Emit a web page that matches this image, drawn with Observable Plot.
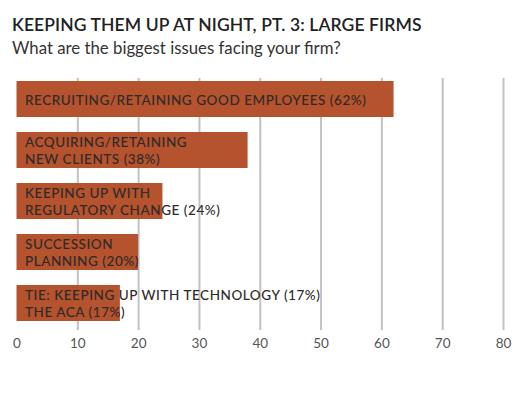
<!DOCTYPE html>
<html>
<head>
<meta charset="utf-8">
<script src="https://cdn.jsdelivr.net/npm/d3@7"></script>
<script src="https://cdn.jsdelivr.net/npm/@observablehq/plot@0.6"></script>
<style>
  body { margin: 0; background: #fff; font-family: Lato, "Open Sans", sans-serif; }
  #head { position: relative; width: 521px; height: 60px; }
  #title { position: absolute; left: 12px; top: 14px; font-size: 17.5px; font-weight: 600; color: #222; letter-spacing: 0.1px; white-space: nowrap; }
  #subtitle { position: absolute; left: 12px; top: 37px; font-size: 16.8px; color: #333; white-space: nowrap; }
  #chart g[aria-label="text"] text { letter-spacing: 0.55px; }
</style>
</head>
<body>
<div id="head">
  <div id="title">KEEPING THEM UP AT NIGHT, PT. 3: LARGE FIRMS</div>
  <div id="subtitle">What are the biggest issues facing your firm?</div>
</div>
<div id="chart"></div>
<script>
const categories = [
  "Recruiting/retaining good employees",
  "Acquiring/retaining new clients",
  "Keeping up with regulatory change",
  "Succession planning",
  "Tie: keeping up with technology / the ACA"
];
const values = [62, 38, 24, 20, 17];
const labels = [
  "RECRUITING/RETAINING GOOD EMPLOYEES (62%)",
  "ACQUIRING/RETAINING\nNEW CLIENTS (38%)",
  "KEEPING UP WITH\nREGULATORY CHANGE (24%)",
  "SUCCESSION\nPLANNING (20%)",
  "TIE: KEEPING UP WITH TECHNOLOGY (17%)\nTHE ACA (17%)"
];
const tickValues = [0, 10, 20, 30, 40, 50, 60, 70, 80];
const gridValues = [10, 20, 30, 40, 50, 60, 70, 80];

const data = categories.map((c, i) => ({category: c, value: values[i], label: labels[i]}));

const chart = Plot.plot({
  width: 521,
  height: 335,
  marginLeft: 16.5,
  marginRight: 18,
  marginTop: 18,
  marginBottom: 65,
  style: {fontFamily: "Lato, 'Open Sans', sans-serif", background: "#fff"},
  x: {domain: [0, 80], ticks: tickValues, tickSize: 0, tickPadding: 7.5, label: null},
  y: {domain: categories, range: [19, 263], paddingInner: 0.285, paddingOuter: 0, axis: null},
  marks: [
    Plot.ruleX(gridValues, {stroke: "#c2c2c2", strokeWidth: 2}),
    Plot.barX(data, {x: "value", y: "category", fill: "#b5532f"}),
    Plot.text(data, {x: 0, y: "category", text: "label", dx: 8, textAnchor: "start", lineAnchor: "middle",
      fontSize: 13.5, lineHeight: 1.26, fill: "#2e2a28", fontWeight: 500}),
    Plot.axisX({ticks: tickValues, tickSize: 0, tickPadding: 7.5, fontSize: 13.5, color: "#555", label: null})
  ]
});
document.getElementById("chart").appendChild(chart);
</script>
</body>
</html>
